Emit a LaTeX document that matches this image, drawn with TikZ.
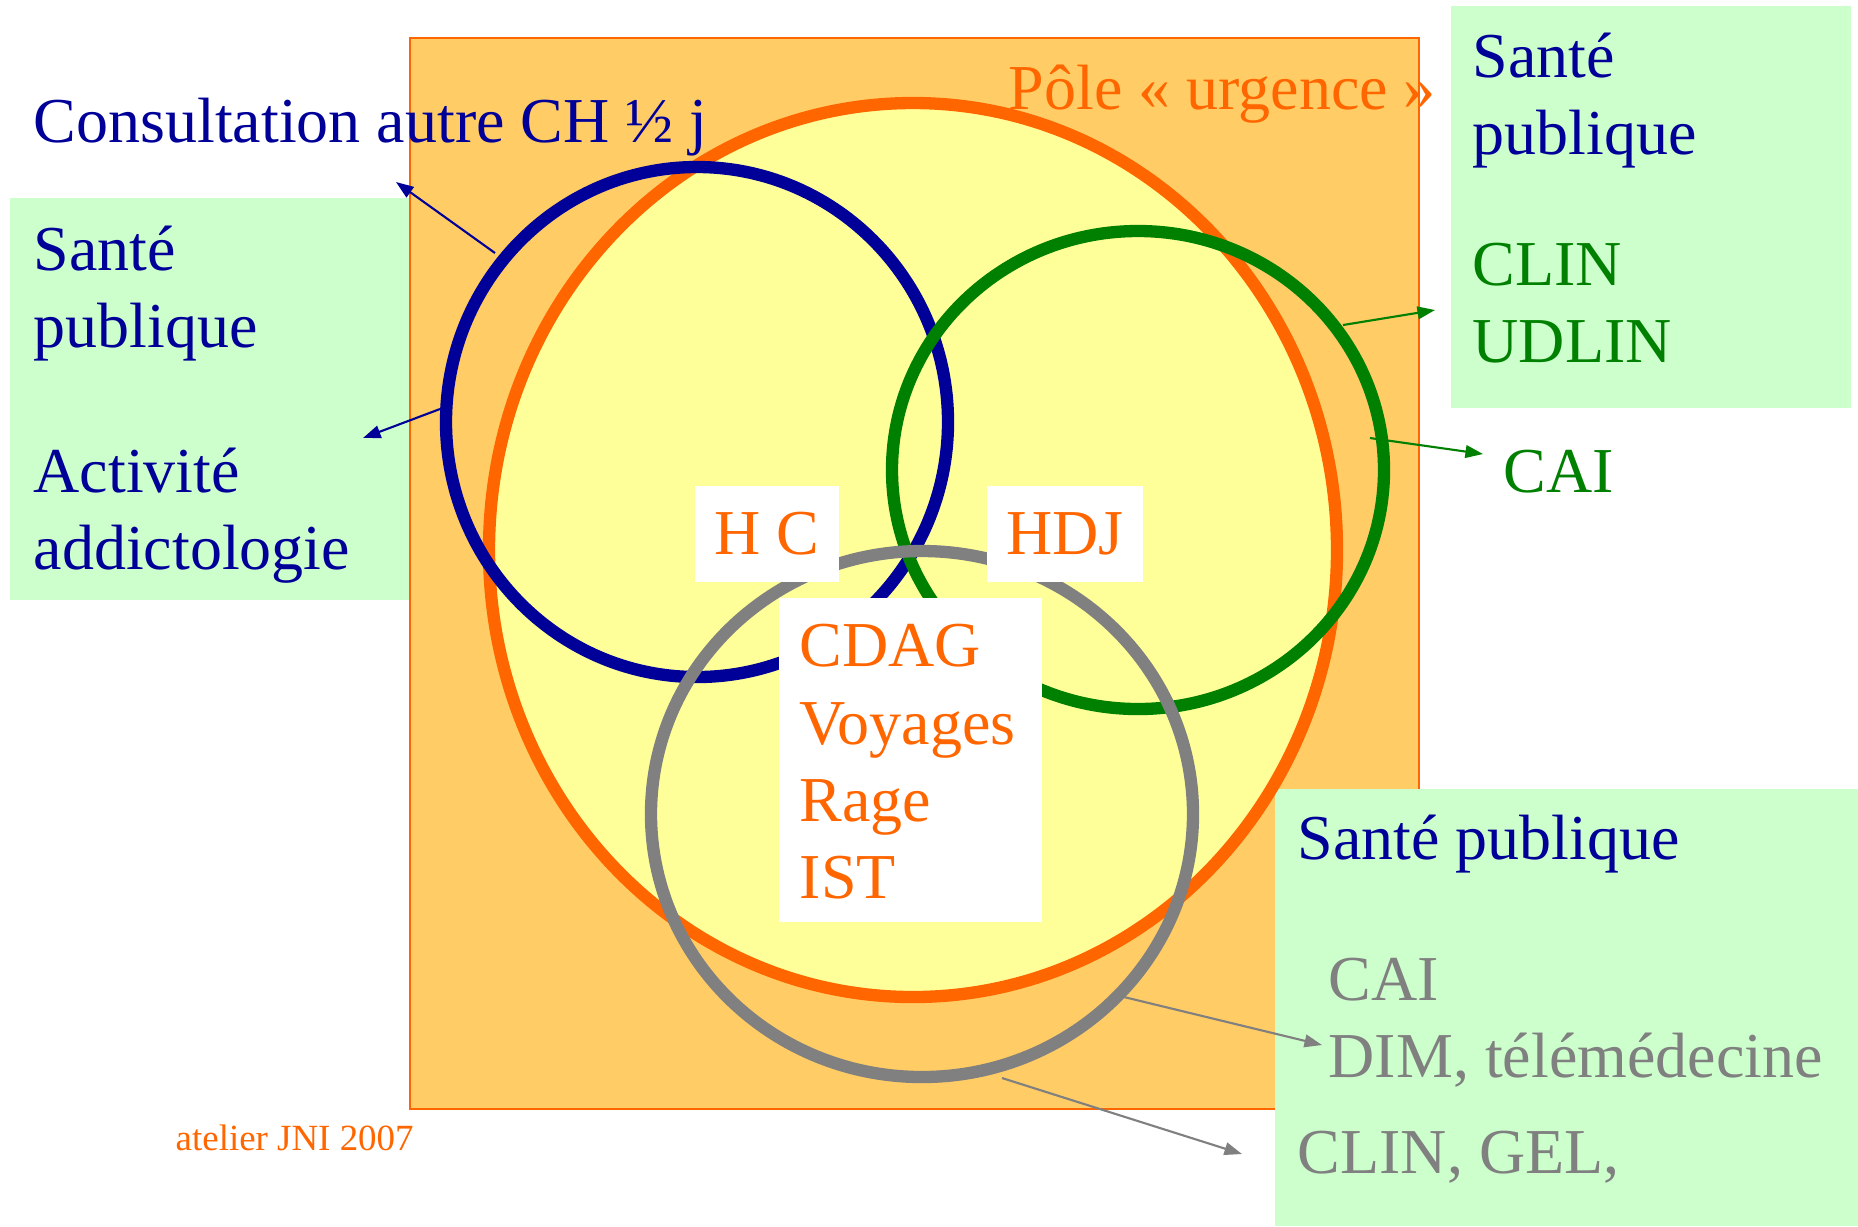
\documentclass[tikz,border=0pt]{standalone}
\usepackage{fontspec}
\setmainfont{Liberation Serif}
\usetikzlibrary{arrows.meta}

\definecolor{poleorange}{HTML}{FF6600}
\definecolor{polefill}{HTML}{FFCC66}
\definecolor{urgyellow}{HTML}{FFFF99}
\definecolor{spblue}{HTML}{000099}
\definecolor{clingreen}{HTML}{008000}
\definecolor{caigray}{HTML}{808080}
\definecolor{boxgreen}{HTML}{CCFFCC}

\tikzset{
  txt/.style={font=\fontsize{18.2}{21.9}\selectfont, inner sep=0pt, anchor=base west, align=left},
  ring/.style={line width=3.5pt},
  link/.style={->, line width=0.6pt},
  tagbox/.style={fill=white, text=poleorange, font=\fontsize{18.2}{21.9}\selectfont,
    minimum width=1.44cm, minimum height=0.96cm, inner sep=0pt}
}

\begin{document}
\begin{tikzpicture}[x=0.01cm, y=-0.01cm, >={Triangle[length=5pt,width=3.6pt]}]

        \useasboundingbox (0,0) rectangle (1858,1226);

        % Left box
        \fill[boxgreen] (10,198) rectangle (410,600);

        % Pole frame
        \filldraw[fill=polefill, draw=poleorange, line width=0.6pt] (410,38) rectangle (1419,1109);

        % Right boxes
        \fill[boxgreen] (1451,6) rectangle (1851,408);
        \fill[boxgreen] (1275,789) rectangle (1858,1226);

        % Rings
        \filldraw[ring, fill=urgyellow, draw=poleorange] (913,550) ellipse [x radius=424, y radius=447];
        \draw[ring, spblue] (697,422) ellipse [x radius=251, y radius=255];
        \draw[ring, clingreen] (1138,470) ellipse [x radius=246, y radius=239];
        \draw[ring, caigray] (922,814) ellipse [x radius=271, y radius=263];

        % Tags inside the pole (multi-line texts sit on their last baseline)
        \node[tagbox] (hc) at (767,534) {H C};
        \node[tagbox, minimum width=1.56cm] (hdj) at (1065,534) {HDJ};
        \fill[white] (779,598) rectangle (1042,922);
        \node[txt, text=poleorange] (cdag) at (799,898) {CDAG\\Voyages\\Rage\\IST};

        % Labels
        \node[txt, text=spblue] (cons) at (33,142) {Consultation autre CH ½ j};
        \node[txt, text=poleorange] (pole) at (1008,109) {Pôle « urgence »};
        \node[txt, text=spblue] (spL) at (33,347) {Santé\\publique};
        \node[txt, text=spblue] (addL) at (33,569) {Activité\\addictologie};
        \node[txt, text=spblue] (spR) at (1472,154) {Santé\\publique};
        \node[txt, text=clingreen] (clinR) at (1472,362) {CLIN\\UDLIN};
        \node[txt, text=clingreen] (caiR) at (1503,492) {CAI};
        \node[txt, text=spblue] (spB) at (1297,859) {Santé publique};
        \node[txt, text=caigray] (caiB) at (1328,1077) {CAI\\DIM, télémédecine};
        \node[txt, text=caigray] (gelB) at (1297,1173) {CLIN, GEL,};
        \node[txt, text=poleorange, font=\fontsize{10.5}{12}\selectfont] (jni) at (175,1150) {atelier JNI 2007};

        % Link ends
        \coordinate (blueA) at (495,253);   \coordinate (consTip) at (396,182);
        \coordinate (blueB) at (440,409);   \coordinate (addTip) at (363,438);
        \coordinate (greenA) at (1343,325); \coordinate (clinTip) at (1435,310);
        \coordinate (greenB) at (1370,438); \coordinate (caiTip) at (1483,454);
        \coordinate (grayA) at (1124,997);  \coordinate (dimTip) at (1322,1045);
        \coordinate (grayB) at (1002,1078); \coordinate (gelTip) at (1242,1154);

        % Links
        \draw[link, spblue] (blueA) -- (consTip);
        \draw[link, spblue] (blueB) -- (addTip);
        \draw[link, clingreen] (greenA) -- (clinTip);
        \draw[link, clingreen] (greenB) -- (caiTip);
        \draw[link, caigray] (grayA) -- (dimTip);
        \draw[link, caigray] (grayB) -- (gelTip);

    \end{tikzpicture}
\end{document}
